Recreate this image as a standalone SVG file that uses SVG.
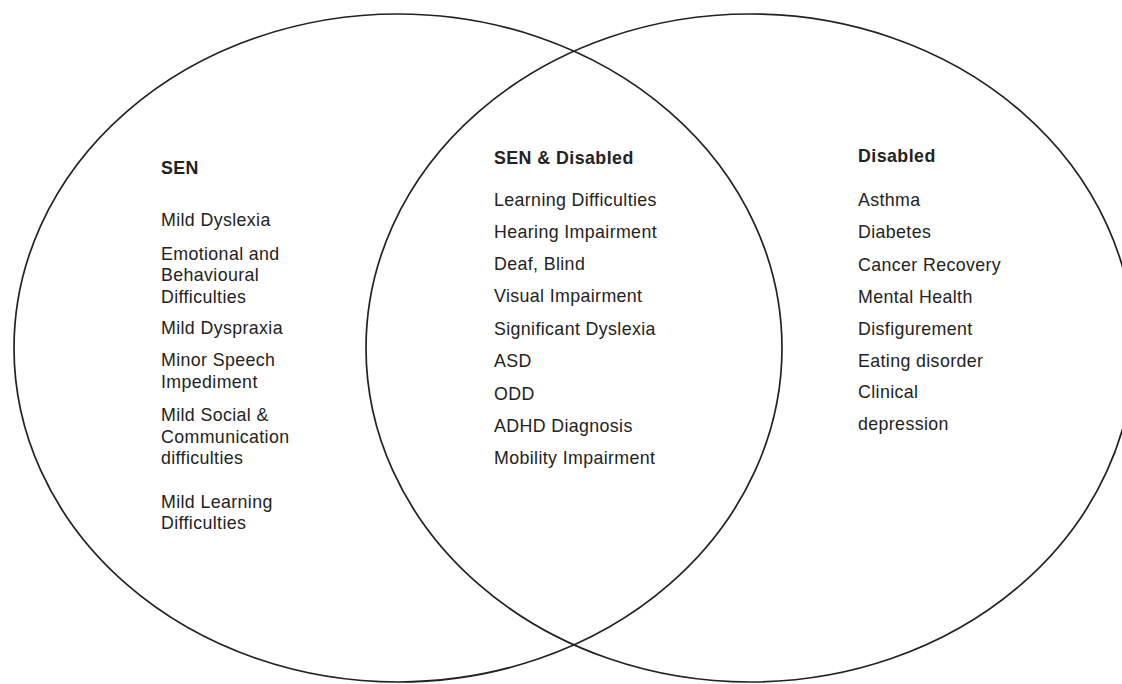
<svg xmlns="http://www.w3.org/2000/svg" width="1122" height="684" viewBox="0 0 1122 684">
<style>
.c{fill:none;stroke:#222;stroke-width:1.7}
text{font-family:"Liberation Sans",Arial,sans-serif;font-size:17.8px;letter-spacing:0.38px;fill:#222}
.h{font-weight:bold;letter-spacing:0.45px}
</style>
<rect width="1122" height="684" fill="#fff"/>
<g id="connectors"></g>
<g id="sen-circle"><ellipse class="c" cx="398" cy="348" rx="384" ry="334"/></g>
<g id="disabled-circle"><ellipse class="c" cx="750" cy="348" rx="384" ry="334"/></g>
<g id="sen">
<text class="h" x="161" y="174">SEN</text>
<text x="161" y="226">Mild Dyslexia</text>
<text x="161" y="260">Emotional and</text>
<text x="161" y="281">Behavioural</text>
<text x="161" y="303">Difficulties</text>
<text x="161" y="334">Mild Dyspraxia</text>
<text x="161" y="366">Minor Speech</text>
<text x="161" y="388">Impediment</text>
<text x="161" y="421">Mild Social &amp;</text>
<text x="161" y="443">Communication</text>
<text x="161" y="464">difficulties</text>
<text x="161" y="508">Mild Learning</text>
<text x="161" y="529">Difficulties</text>
</g>
<g id="sen-disabled">
<text class="h" x="494" y="164">SEN &amp; Disabled</text>
<text x="494" y="206">Learning Difficulties</text>
<text x="494" y="238">Hearing Impairment</text>
<text x="494" y="270">Deaf, Blind</text>
<text x="494" y="302">Visual Impairment</text>
<text x="494" y="335">Significant Dyslexia</text>
<text x="494" y="367">ASD</text>
<text x="494" y="400">ODD</text>
<text x="494" y="432">ADHD Diagnosis</text>
<text x="494" y="464">Mobility Impairment</text>
</g>
<g id="disabled">
<text class="h" x="858" y="162">Disabled</text>
<text x="858" y="206">Asthma</text>
<text x="858" y="238">Diabetes</text>
<text x="858" y="271">Cancer Recovery</text>
<text x="858" y="303">Mental Health</text>
<text x="858" y="335">Disfigurement</text>
<text x="858" y="367">Eating disorder</text>
<text x="858" y="398">Clinical</text>
<text x="858" y="430">depression</text>
</g>
</svg>
